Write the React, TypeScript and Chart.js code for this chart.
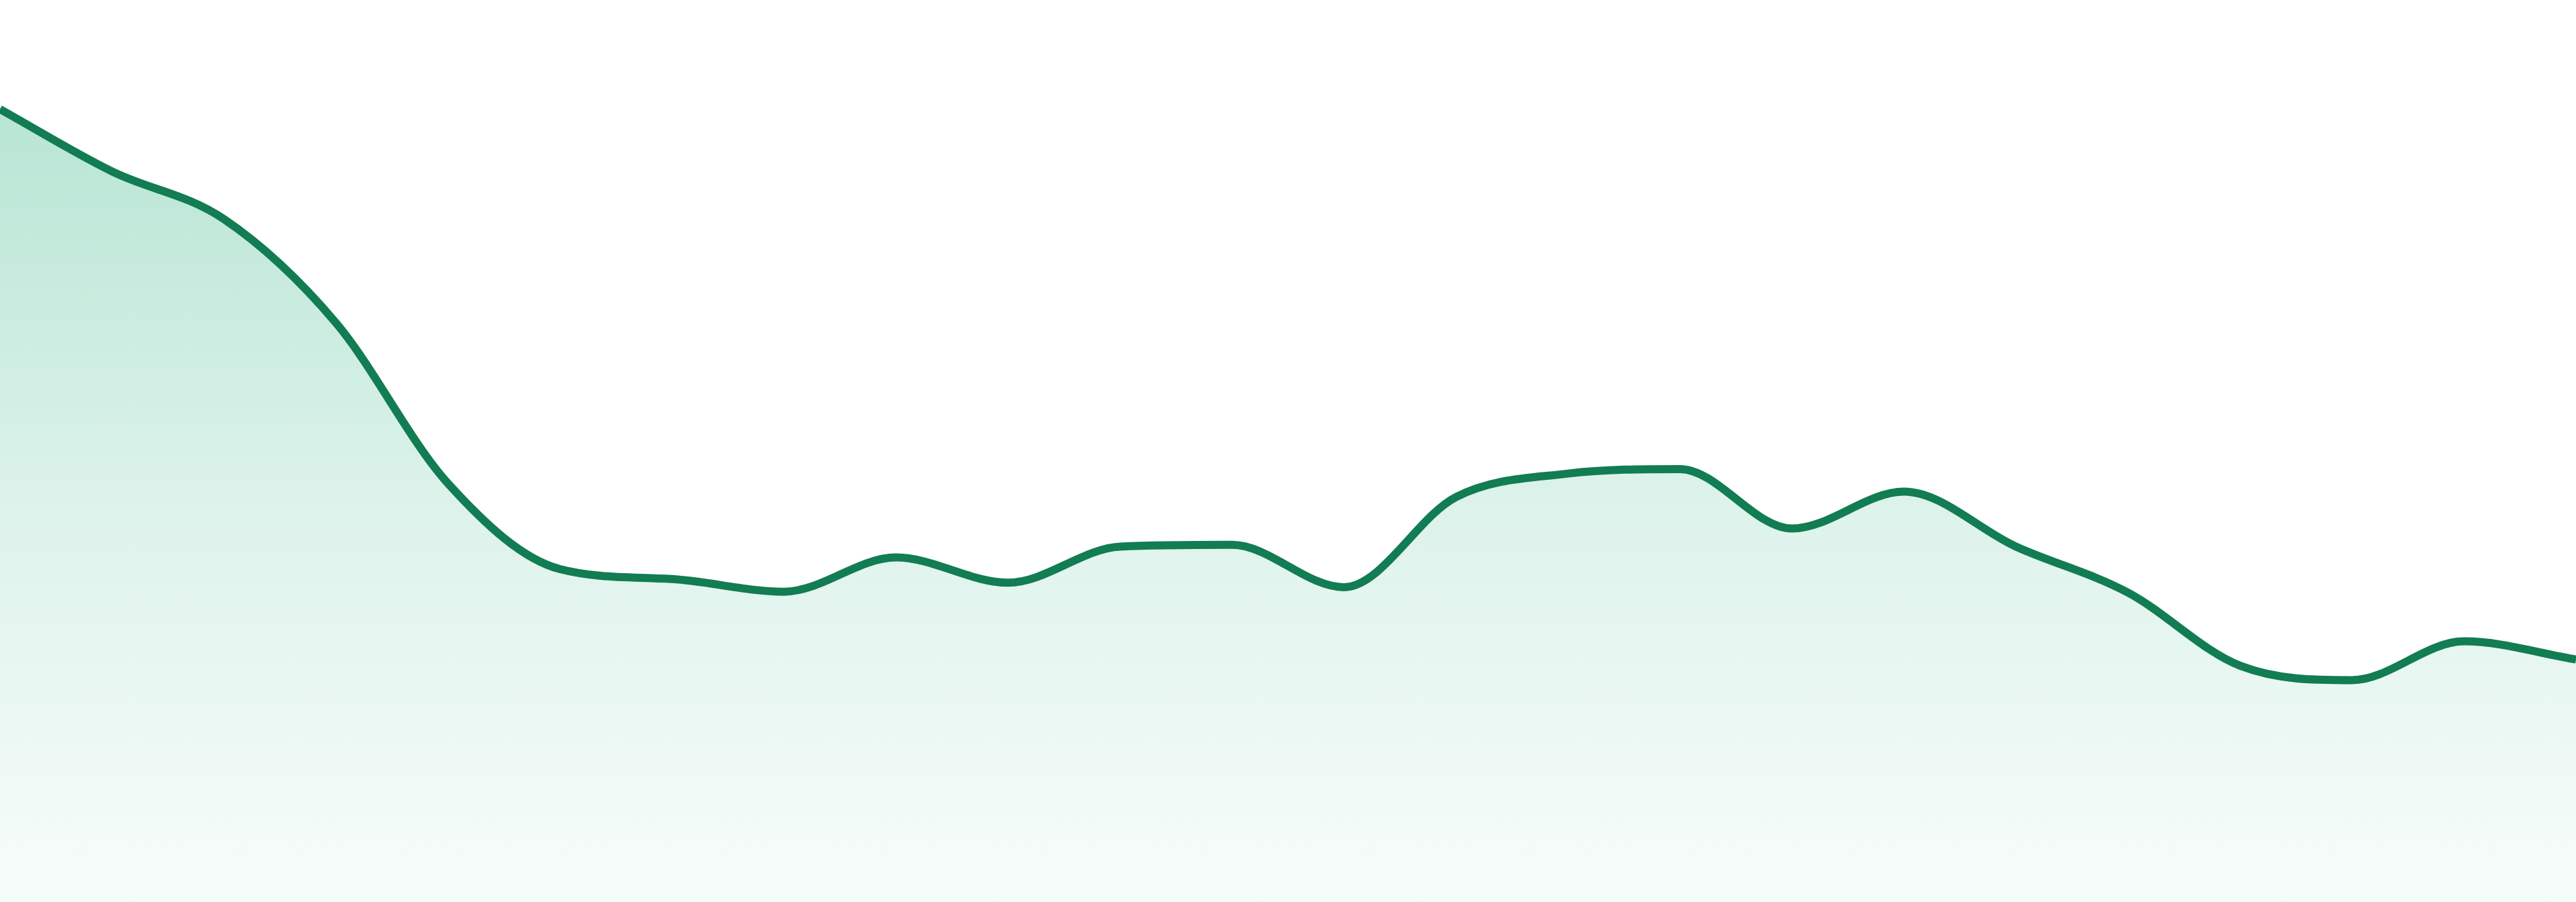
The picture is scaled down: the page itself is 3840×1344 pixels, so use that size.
import { useEffect, useRef } from 'react'
import Chart from 'chart.js/auto'

// 24 hourly points, no visible axes
const hours = [
  '00:00', '01:00', '02:00', '03:00', '04:00', '05:00', '06:00', '07:00',
  '08:00', '09:00', '10:00', '11:00', '12:00', '13:00', '14:00', '15:00',
  '16:00', '17:00', '18:00', '19:00', '20:00', '21:00', '22:00', '23:00',
]
const values = [
  87.9, 81.0, 75.7, 64.2, 46.4, 36.9, 35.8, 34.4,
  38.2, 35.4, 39.4, 39.6, 34.9, 44.9, 47.5, 48.0,
  41.4, 45.5, 39.4, 34.3, 26.2, 24.6, 28.9, 26.9,
]
const yRange = [0, 100]

const LINE = '#127c52'

export default function App() {
  const ref = useRef<HTMLCanvasElement>(null)

  useEffect(() => {
    document.body.style.margin = '0'
    if (!ref.current) return

    const fill = (c: { chart: Chart }) => {
      const { ctx, chartArea } = c.chart
      if (!chartArea) return 'rgba(20,170,115,0.2)'
      const g = ctx.createLinearGradient(0, chartArea.top, 0, chartArea.bottom)
      g.addColorStop(0, 'rgba(20,170,115,0.34)')
      g.addColorStop(0.25, 'rgba(20,170,115,0.26)')
      g.addColorStop(0.55, 'rgba(20,170,115,0.15)')
      g.addColorStop(1, 'rgba(20,170,115,0.03)')
      return g
    }

    const chart = new Chart(ref.current, {
      type: 'line',
      data: {
        labels: hours,
        datasets: [
          {
            data: values,
            borderColor: LINE,
            borderWidth: 12,
            pointRadius: 0,
            cubicInterpolationMode: 'monotone',
            fill: 'origin',
            backgroundColor: fill,
          },
        ],
      },
      options: {
        animation: false,
        responsive: true,
        maintainAspectRatio: false,
        layout: { padding: 0 },
        plugins: { legend: { display: false }, tooltip: { enabled: false } },
        scales: {
          x: { display: false, offset: false },
          y: { display: false, min: yRange[0], max: yRange[1] },
        },
      },
    })

    return () => chart.destroy()
  }, [])

  return (
    <div style={{ position: 'fixed', inset: 0, background: '#fff' }}>
      <canvas ref={ref} />
    </div>
  )
}
